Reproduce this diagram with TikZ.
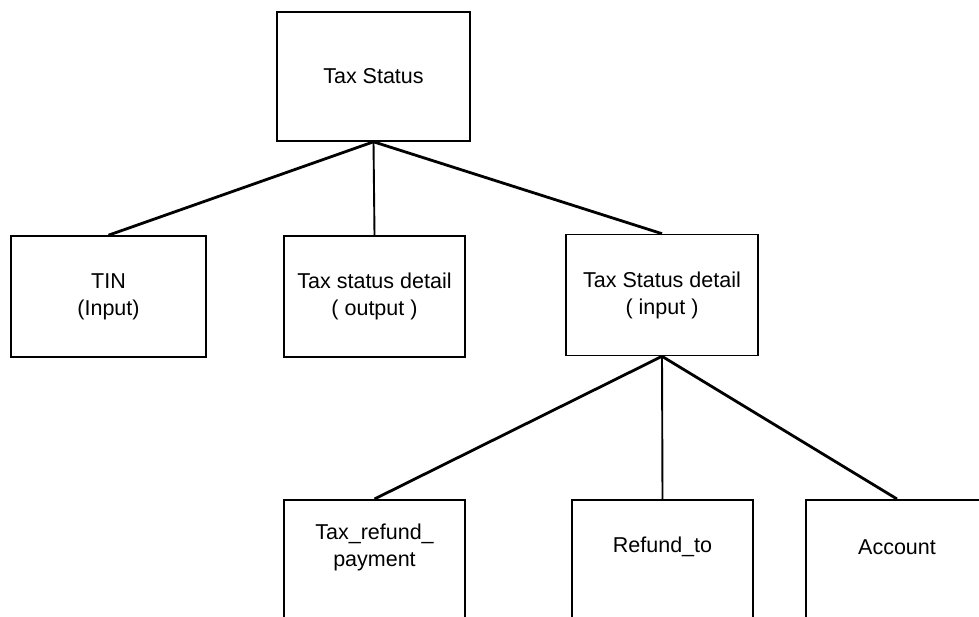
\documentclass[tikz,border=0pt]{standalone}
\usepackage{fontspec}
\setmainfont{Liberation Sans}
\begin{document}
\begin{tikzpicture}[x=1pt,y=-1pt,
  box/.style={draw=black,line width=1.6pt,rectangle,inner sep=0pt,align=center,
    font=\fontsize{21.5}{27}\selectfont},
  lbl/.style={inner sep=0pt,align=center,font=\fontsize{21.5}{27}\selectfont},
  diag/.style={line width=2.8pt},
  vert/.style={line width=1.9pt}]
\useasboundingbox (0,0) rectangle (979,617);
\clip (0,0) rectangle (979,617);
\fill[white] (0,0) rectangle (979,617);
% top
\node[box,minimum width=193pt,minimum height=129pt] (top) at (373.5,76.5) {Tax Status};
% second row
\node[box,minimum width=195pt,minimum height=121pt] (tin) at (108.5,296.5) {TIN\\(Input)};
\node[box,minimum width=181pt,minimum height=121pt] (out) at (374.5,296.5) {Tax status detail\\( output )};
\node[box,minimum width=192pt,minimum height=121pt] (inp) at (662,295) {Tax Status detail\\( input )};
% bottom row (cut off at the page edge)
\node[box,minimum width=181pt,minimum height=240pt,anchor=north] (trp) at (374.5,499) {};
\node[box,minimum width=181pt,minimum height=240pt,anchor=north] (rto) at (662.5,499) {};
\node[box,minimum width=182pt,minimum height=240pt,anchor=north] (acc) at (897,499) {};
\node[lbl] (trpt) at (374.5,547) {Tax\_refund\_\\payment};
\node[lbl] (rtot) at (662.5,547) {Refund\_to};
\node[lbl] (acct) at (897,547) {Account};
% connectors
\draw[diag] (top.south) -- (tin.north);
\draw[vert] (top.south) -- (out.north);
\draw[diag] (top.south) -- (inp.north);
\draw[diag] (inp.south) -- (trp.north);
\draw[vert] (inp.south) -- (rto.north);
\draw[diag] (inp.south) -- (acc.north);
\end{tikzpicture}
\end{document}
